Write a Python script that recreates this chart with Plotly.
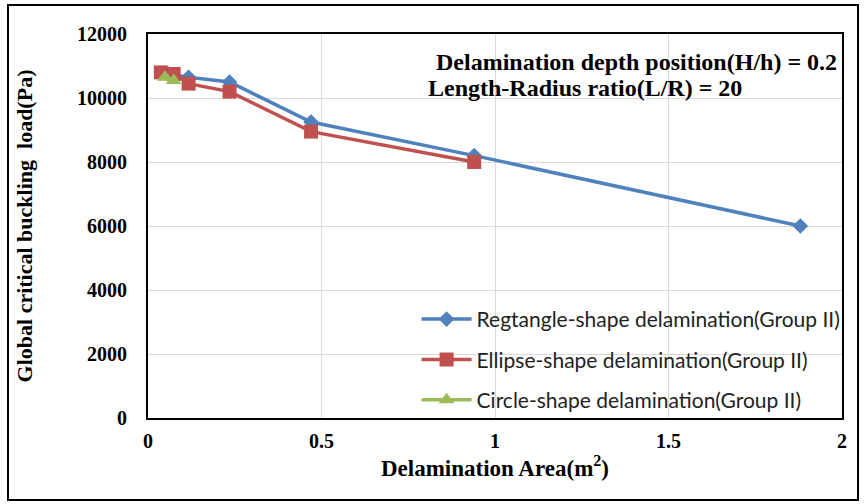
import plotly.graph_objects as go

rect_x = [0.059, 0.117, 0.235, 0.47, 0.94, 1.88]
rect_y = [10750, 10650, 10500, 9250, 8200, 6000]
ellipse_x = [0.037, 0.074, 0.117, 0.235, 0.47, 0.94]
ellipse_y = [10800, 10750, 10450, 10200, 8950, 8000]
circle_x = [0.049, 0.074]
circle_y = [10650, 10550]

x_ticks = [0, 0.5, 1, 1.5, 2]
x_ticktext = ["0", "0.5", "1", "1.5", "2"]
y_ticks = [0, 2000, 4000, 6000, 8000, 10000, 12000]
y_ticktext = ["0", "2000", "4000", "6000", "8000", "10000", "12000"]

names = ["Regtangle-shape delamination(Group II)",
         "Ellipse-shape delamination(Group II)",
         "Circle-shape delamination(Group II)"]
colors = ["#4f81bd", "#c0504d", "#9bbb59"]
symbols = ["diamond", "square", "triangle-up"]
msizes = [12, 14, 14]

fig = go.Figure()
for i, (xs, ys) in enumerate([(rect_x, rect_y), (ellipse_x, ellipse_y), (circle_x, circle_y)]):
    fig.add_trace(go.Scatter(
        x=xs, y=ys, mode="lines+markers", name=names[i],
        legendgroup=f"g{i}",
        line=dict(color=colors[i], width=3.5),
        marker=dict(symbol=symbols[i], size=msizes[i], color=colors[i]),
    ))

serif = "Liberation Serif"
fig.update_layout(
    width=864, height=504,
    margin=dict(l=148, r=22, t=34, b=86),
    paper_bgcolor="white", plot_bgcolor="white",
    showlegend=True,
    legend=dict(x=0.387, y=0.31, xanchor="left", yanchor="top",
                font=dict(family="Lato", size=21, color="#222"),
                tracegroupgap=10, bgcolor="rgba(0,0,0,0)",
                itemwidth=50),
    xaxis=dict(range=[0, 2], tickvals=x_ticks, ticktext=x_ticktext,
               showgrid=True, gridcolor="#d9d9d9", gridwidth=1,
               showline=True, linecolor="black", linewidth=2, mirror=True,
               ticks="", zeroline=False, ticklabelstandoff=4,
               tickfont=dict(family=serif, size=20, color="black", weight="bold"),
               title=dict(text="<b>Delamination Area(m<sup>2</sup>)</b>",
                          font=dict(family=serif, size=23, color="black"), standoff=6)),
    yaxis=dict(range=[0, 12000], tickvals=y_ticks, ticktext=y_ticktext,
               showgrid=True, gridcolor="#d9d9d9", gridwidth=1,
               showline=True, linecolor="black", linewidth=2, mirror=True,
               ticks="", zeroline=False, ticklabelstandoff=15,
               tickfont=dict(family=serif, size=20, color="black", weight="bold"),
               title=dict(text="<b>Global critical buckling  load(Pa)</b>",
                          font=dict(family=serif, size=22, color="black"), standoff=38)),
    annotations=[
        dict(xref="paper", yref="paper", x=0.995, y=0.928, xanchor="right", yanchor="middle",
             text="<b>Delamination depth position(H/h) = 0.2</b>", showarrow=False,
             font=dict(family=serif, size=24, color="black")),
        dict(xref="paper", yref="paper", x=0.4, y=0.86, xanchor="left", yanchor="middle",
             text="<b>Length-Radius ratio(L/R) = 20</b>", showarrow=False,
             font=dict(family=serif, size=24, color="black")),
    ],
    shapes=[dict(type="rect", xref="paper", yref="paper",
                 x0=(8 - 148) / 694, x1=(858 - 148) / 694,
                 y0=(418 - 500) / 384, y1=(418 - 5) / 384,
                 line=dict(color="black", width=2))],
)

fig.write_html("out.html")
